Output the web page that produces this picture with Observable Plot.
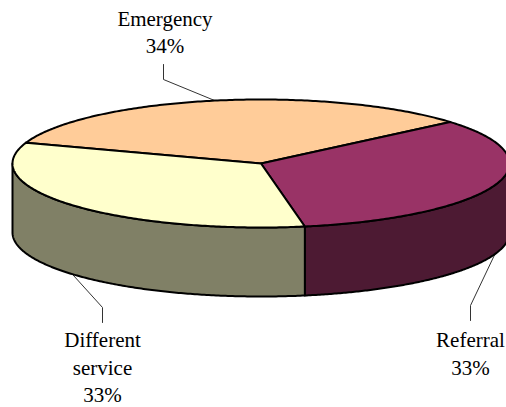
<!DOCTYPE html>
<html>
<head>
<meta charset="utf-8">
<style>html,body{margin:0;padding:0;background:#fff}svg{display:block}</style>
<script src="https://cdn.jsdelivr.net/npm/d3@7"></script>
<script src="https://cdn.jsdelivr.net/npm/@observablehq/plot@0.6"></script>
</head>
<body>
<script>
const categories = ["Emergency", "Referral", "Different service"];
const shares = [33.5, 33.4, 33.1];
const labelTexts = ["Emergency\n34%", "Referral\n33%", "Different\nservice\n33%"];
const topColors = ["#FFCC99", "#993366", "#FFFFCC"];
const sideColors = ["#804D33", "#4D1A33", "#808066"];

// Layout (pixels of the picture), converted to the pie's own units
const W = 506, H = 407, cx = 260.5, cy = 163, rx = 248.5, ry = 64, depth = 69;
const firstAngle = -71;              // degrees clockwise from the top
const X = px => (px - cx) / rx, Y = py => (cy - py) / ry;
const d = depth / ry;
const elbows = [[163, 79], [470, 305], [102, 307]];
const stems  = [[163, 64], [470, 320], [102, 322]];
const textAt = [[164.5, 5.5], [470, 327], [102, 327]];

const rad = Math.PI / 180;
const arcs = d3.pie().sort(null).value(v => v)
  .startAngle(firstAngle * rad).endAngle((firstAngle + 360) * rad)(shares);
const pt = (deg, drop = 0) => [Math.sin(deg * rad), Math.cos(deg * rad) - drop];
const sweep = (a, b) => d3.range(0, 181).map(i => a + (b - a) * i / 180);

const tops = [], sides = [], leaders = [], labels = [];
arcs.forEach((arc, i) => {
  const a = arc.startAngle / rad, b = arc.endAngle / rad, name = categories[i];
  // top face
  const face = [[0, 0], ...sweep(a, b).map(t => pt(t)), [0, 0]];
  face.forEach(([x, y]) => tops.push({name, x, y}));
  // visible wall: the part between 90 and 270 degrees
  const lo = Math.max(a, 90), hi = Math.min(b, 270);
  if (lo < hi) {
    const wall = [...sweep(lo, hi).map(t => pt(t)), ...sweep(hi, lo).map(t => pt(t, d))];
    wall.push(wall[0]);
    wall.forEach(([x, y]) => sides.push({name, x, y}));
  }
  // leader from the middle of the slice's rim
  const mid = (a + b) / 2, norm = ((mid % 360) + 360) % 360;
  const start = pt(mid, norm > 90 && norm < 270 ? d : 0);
  [start, [X(elbows[i][0]), Y(elbows[i][1])], [X(stems[i][0]), Y(stems[i][1])]]
    .forEach(([x, y]) => leaders.push({name, x, y}));
  labels.push({text: labelTexts[i], x: X(textAt[i][0]), y: Y(textAt[i][1])});
});

const chart = Plot.plot({
  width: W, height: H, margin: 0,
  x: {domain: [X(0), X(W)], range: [0, W], axis: null},
  y: {domain: [Y(H), Y(0)], range: [H, 0], axis: null},
  color: {domain: categories.map(c => c), range: topColors},
  style: {background: "#fff"},
  marks: [
    Plot.line(leaders, {x: "x", y: "y", z: "name", stroke: "#333", strokeWidth: 1, curve: "linear"}),
    ...categories.map((name, i) => Plot.line(sides.filter(s => s.name === name), {
      x: "x", y: "y", fill: sideColors[i], stroke: "#000", strokeWidth: 2,
      strokeLinejoin: "round", curve: "linear"
    })),
    Plot.line(tops, {
      x: "x", y: "y", z: "name", fill: "name", stroke: "#000", strokeWidth: 2,
      strokeLinejoin: "round", curve: "linear"
    }),
    Plot.text(labels, {
      x: "x", y: "y", text: "text", lineAnchor: "top", textAnchor: "middle",
      fontFamily: "Liberation Serif", fontSize: 21, lineHeight: 1.31, fill: "#000"
    })
  ]
});
document.body.appendChild(chart);
</script>
</body>
</html>
